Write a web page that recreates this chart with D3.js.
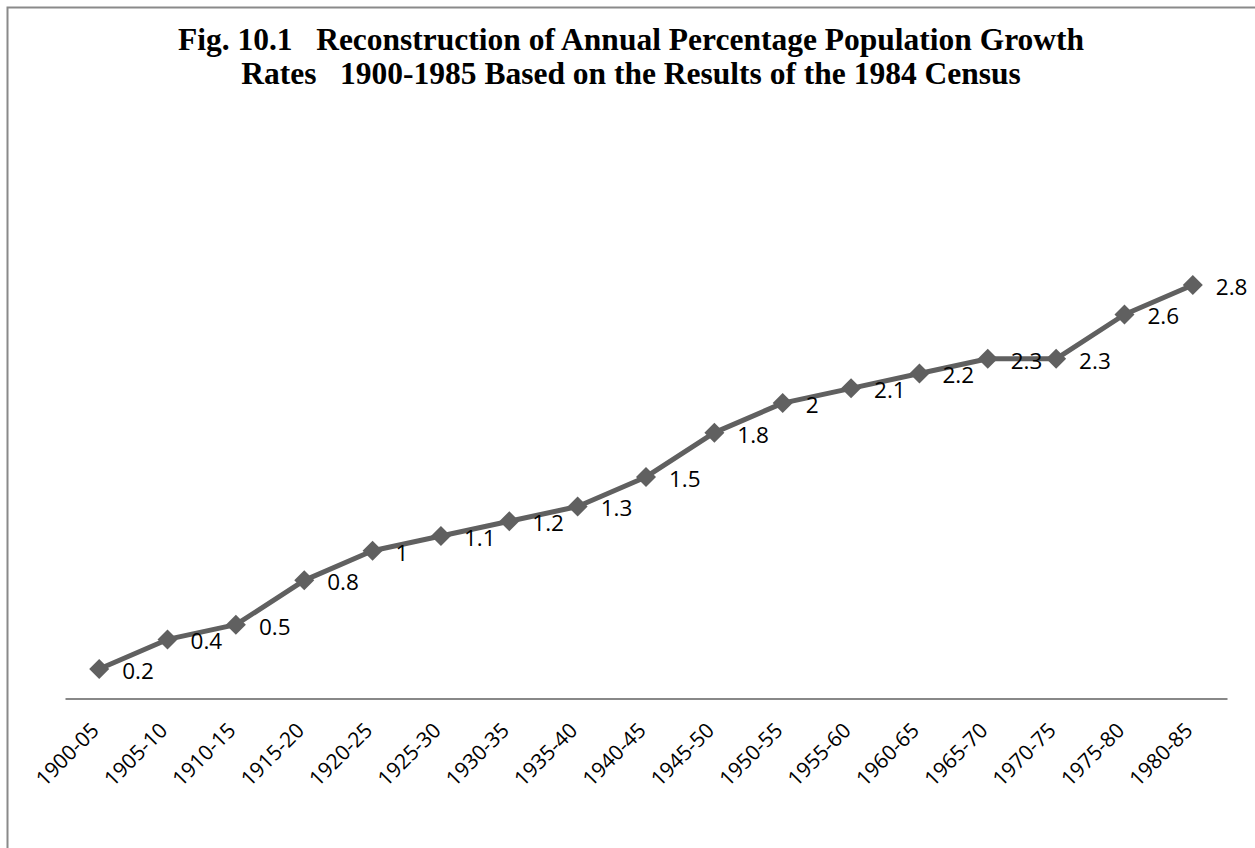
<!DOCTYPE html>
<html>
<head>
<meta charset="utf-8">
<script src="https://cdn.jsdelivr.net/npm/d3@7"></script>
<style>
  html, body { margin: 0; padding: 0; background: #fff; }
  svg { display: block; }
</style>
</head>
<body>
<div id="chart"></div>
<script>
// periods on the x axis
const categories = ['1900-05', '1905-10', '1910-15', '1915-20', '1920-25', '1925-30', '1930-35',
  '1935-40', '1940-45', '1945-50', '1950-55', '1955-60', '1960-65', '1965-70', '1970-75',
  '1975-80', '1980-85'];
// annual growth rate, percent
const growthRates = [0.2, 0.4, 0.5, 0.8, 1, 1.1, 1.2, 1.3, 1.5, 1.8, 2, 2.1, 2.2, 2.3, 2.3, 2.6, 2.8];
const titleLines = ['Fig. 10.1   Reconstruction of Annual Percentage Population Growth',
  'Rates   1900-1985 Based on the Results of the 1984 Census'];

const width = 1255, height = 848;
const lineColor = '#606060';
const labelFont = "'Open Sans', sans-serif";

const svg = d3.select('#chart').append('svg')
  .attr('width', width)
  .attr('height', height);

// chart frame (right and bottom edges fall outside the picture)
svg.append('rect')
  .attr('x', 7.5).attr('y', 7.5)
  .attr('width', width + 20).attr('height', height + 20)
  .attr('fill', 'none')
  .attr('stroke', '#8a8a8a')
  .attr('stroke-width', 2);

// title
svg.append('g').selectAll('text')
  .data(titleLines)
  .enter()
  .append('text')
  .attr('x', 631)
  .attr('y', (d, i) => 50 + i * 34)
  .attr('text-anchor', 'middle')
  .style('white-space', 'pre')
  .attr('font-family', "'Liberation Serif', 'Times New Roman', serif")
  .attr('font-weight', 'bold')
  .attr('font-size', 31.5)
  .text(d => d);

const x = d3.scaleBand().domain(categories).range([65, 1227]);
const y = d3.scaleLinear().domain([0, 3]).range([698.5, 255.4]);
const cx = d => x(d) + x.bandwidth() / 2;

// category axis
const axis = svg.append('g')
  .attr('transform', `translate(0,${y(0)})`)
  .call(d3.axisBottom(x).tickSize(0).tickSizeOuter(0));

axis.select('.domain')
  .attr('stroke', '#888')
  .attr('stroke-width', 2);

axis.selectAll('.tick text')
  .attr('font-family', labelFont)
  .attr('font-size', 21)
  .attr('fill', '#000')
  .attr('text-anchor', 'end')
  .attr('x', -4)
  .attr('y', 28)
  .attr('dy', '0.35em')
  .attr('transform', 'rotate(-45, -4, 28)');

// line
const line = d3.line()
  .x((d, i) => cx(categories[i]))
  .y(d => y(d));

svg.append('path')
  .datum(growthRates)
  .attr('d', line)
  .attr('fill', 'none')
  .attr('stroke', lineColor)
  .attr('stroke-width', 5)
  .attr('stroke-linejoin', 'round');

// diamond markers
svg.append('g').selectAll('path')
  .data(growthRates)
  .enter()
  .append('path')
  .attr('d', d3.symbol(d3.symbolSquare, 200))
  .attr('transform', (d, i) => `translate(${cx(categories[i])},${y(d)}) rotate(45)`)
  .attr('fill', lineColor);

// data labels, right of each point
svg.append('g').selectAll('text')
  .data(growthRates)
  .enter()
  .append('text')
  .attr('x', (d, i) => cx(categories[i]) + 23)
  .attr('y', d => y(d) + 2)
  .attr('dy', '0.35em')
  .attr('font-family', labelFont)
  .attr('font-size', 22.5)
  .attr('fill', '#000')
  .text(d => d);
</script>
</body>
</html>
